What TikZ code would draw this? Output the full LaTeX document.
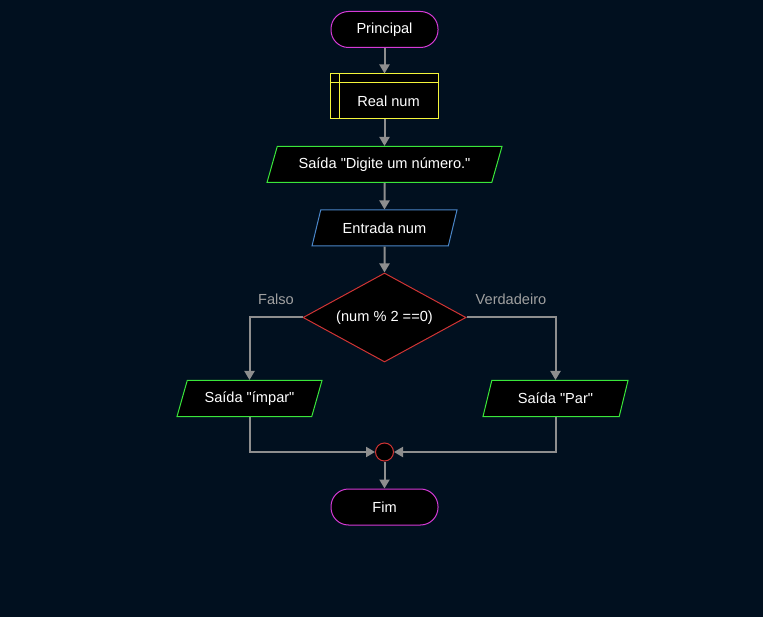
\documentclass[tikz,border=0pt]{standalone}
\usepackage{fontspec}
\setmainfont{Liberation Sans}[Ligatures=TeXOff]
\usetikzlibrary{shapes.geometric,arrows.meta}
\definecolor{bgnavy}{HTML}{01101F}
\definecolor{termpink}{HTML}{D63AD6}
\definecolor{declyellow}{HTML}{F5F53A}
\definecolor{outgreen}{HTML}{3AE63A}
\definecolor{inblue}{HTML}{4A86C8}
\definecolor{condred}{HTML}{D03434}
\definecolor{linegray}{HTML}{8E8E8E}
\definecolor{lblgray}{HTML}{A0A0A0}

\begin{document}
\begin{tikzpicture}[x=1pt,y=-1pt,>={Triangle[width=10pt,length=9pt]},
  every node/.style={font=\fontsize{14.6}{16}\selectfont,text=white},
  term/.style={draw=termpink,fill=black,line width=1pt,rounded corners=17.5pt,
    minimum width=107pt,minimum height=36pt},
  decl/.style={draw=declyellow,fill=black,line width=1pt,
    minimum width=108pt,minimum height=45pt,text height=19.5pt,text depth=0pt},
  outbox/.style={trapezium,trapezium left angle=63.4,trapezium right angle=116.6,
    trapezium stretches body,draw=outgreen,fill=black,line width=1pt,minimum height=36pt},
  inbox/.style={outbox,draw=inblue},
  decision/.style={diamond,draw=condred,fill=black,line width=1pt,inner sep=0pt,
    aspect=1.83,minimum width=163pt,minimum height=89pt},
  junc/.style={circle,draw=condred,fill=black,line width=1pt,inner sep=0pt,minimum size=18pt},
  conn/.style={draw=linegray,line width=2pt,->},
  lbl/.style={text=lblgray}]

\fill[bgnavy] (0,0) rectangle (763,617);
\useasboundingbox (0,0) rectangle (763,617);

\node[term] (principal) at (384.5,29.5) {Principal};
\node[decl] (real) at (384.5,96.5) {\hspace{8pt}Real num};
\draw[declyellow,line width=1pt] ([yshift=-9pt]real.north west) -- ([yshift=-9pt]real.north east);
\draw[declyellow,line width=1pt] ([xshift=9pt]real.north west) -- ([xshift=9pt]real.south west);
\node[outbox,minimum width=235pt] (digite) at (384.5,164.5) {Saída "Digite um número."};
\node[inbox,minimum width=145pt] (entrada) at (384.5,228) {Entrada num};
\node[decision] (cond) at (384.5,317.5) {(num \% 2 ==0)};
\node[outbox,minimum width=145pt] (impar) at (249.5,398.5) {Saída "ímpar"};
\node[outbox,minimum width=145pt] (par) at (555.5,398.5) {Saída "Par"};
\node[junc] (join) at (384.5,452) {};
\node[term] (fim) at (384.5,507) {Fim};

\draw[conn] (principal) -- (real);
\draw[conn] (real) -- (digite);
\draw[conn] (digite) -- (entrada);
\draw[conn] (entrada) -- (cond);
\draw[conn] (cond.west) -| node[lbl,pos=.25,above=9pt]{Falso} (impar.north);
\draw[conn] (cond.east) -| node[lbl,pos=.25,above=9pt]{Verdadeiro} (par.north);
\draw[conn] (impar.south) |- (join.west);
\draw[conn] (par.south) |- (join.east);
\draw[conn] (join) -- (fim);

\end{tikzpicture}
\end{document}
